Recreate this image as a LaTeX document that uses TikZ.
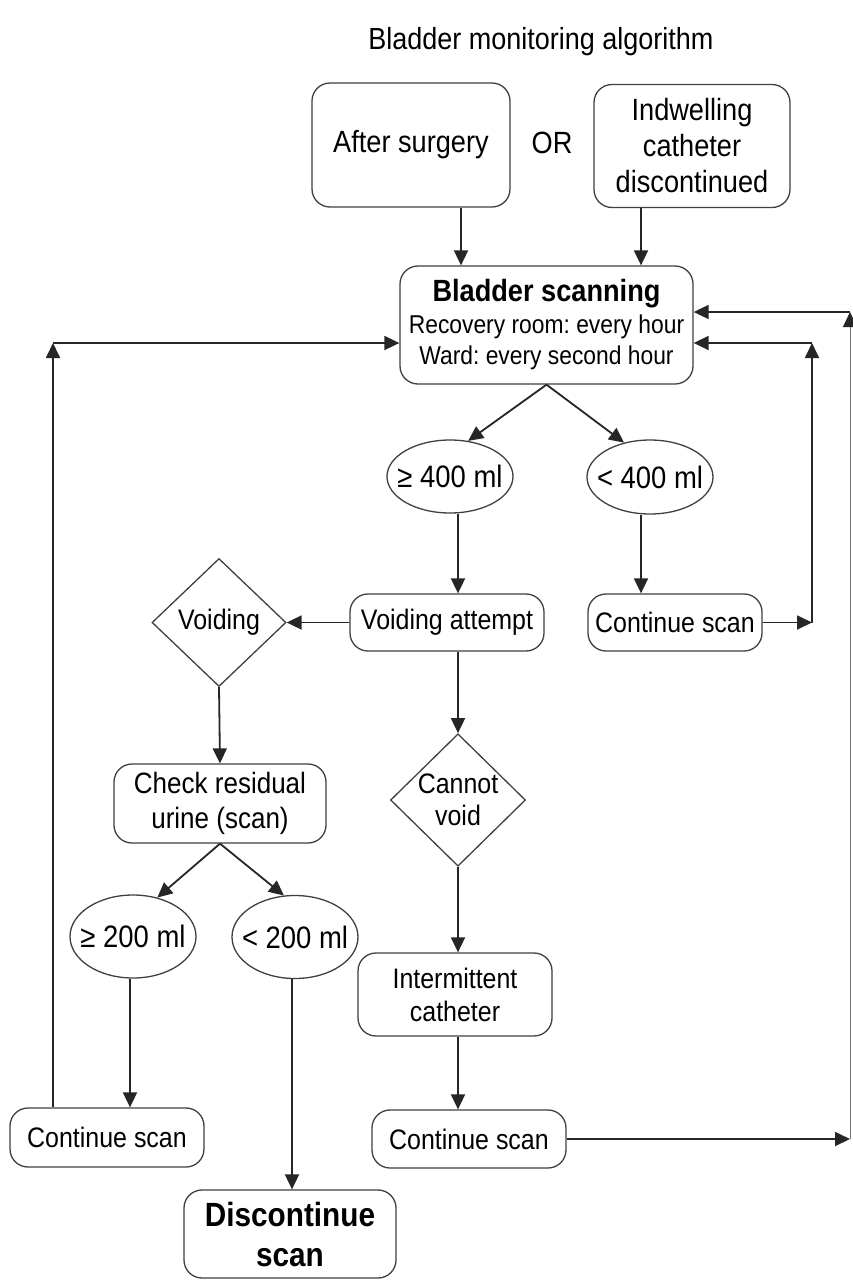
\documentclass[tikz,border=0pt]{standalone}
\usepackage{fontspec}
\setmainfont{Liberation Sans}[FakeStretch=0.885]
\usetikzlibrary{shapes.geometric,arrows.meta}
\frenchspacing
\begin{document}
\begin{tikzpicture}[x=1pt,y=-1pt,
  box/.style={draw=black!75, line width=1.3pt, rounded corners=18pt, align=center, inner sep=0pt, font=\fontsize{28.2}{35}\selectfont},
  oval/.style={ellipse, draw=black!75, line width=1.3pt, inner sep=0pt, font=\fontsize{31}{34}\selectfont},
  dia/.style={diamond, draw=black!75, line width=1.3pt, inner sep=0pt, align=center, font=\fontsize{28.2}{32}\selectfont},
  arr/.style={-{Triangle[length=15pt,width=14pt]}, line width=1.8pt, draw=black!85},
  thinarr/.style={-{Triangle[length=15pt,width=14pt,color=black!85]}, line width=1pt, draw=black!55},
  lbl/.style={inner sep=0pt, font=\fontsize{30.7}{34}\selectfont}]
\useasboundingbox (0,0) rectangle (852,1280);
\fill[white] (0,0) rectangle (852,1280);

% title
\node[lbl, font=\fontsize{30.5}{34}\selectfont] (title) at (541,42) {Bladder monitoring algorithm};

% nodes
\node[box, minimum width=198pt, minimum height=124pt, font=\fontsize{30.7}{36}\selectfont] (after) at (411,145) {After surgery};
\node[lbl] (or) at (552,143) {OR};
\node[box, minimum width=196pt, minimum height=123pt, font=\fontsize{30.7}{36}\selectfont] (indw) at (692,146) {Indwelling\\catheter\\discontinued};
\node[box, minimum width=293pt, minimum height=118pt, font=\fontsize{25.8}{31.5}\selectfont] (bs) at (546.5,325)
  {{\fontsize{30.7}{31.5}\selectfont\bfseries Bladder scanning}\\Recovery room: every hour\\Ward: every second hour};
\node[oval, minimum width=126pt, minimum height=73pt] (ge400) at (450,476.5) {\makebox[0pt]{≥ 400 ml}};
\node[oval, minimum width=126pt, minimum height=74pt] (lt400) at (650,477) {\makebox[0pt]{< 400 ml}};
\node[box, minimum width=194pt, minimum height=57pt] (va) at (447,622.5) {Voiding attempt};
\node[box, minimum width=174pt, minimum height=57pt] (cs1) at (675,622.5) {Continue scan};
\node[dia, minimum width=134pt, minimum height=128pt] (void) at (219,622.5) {Voiding};
\node[dia, minimum width=135pt, minimum height=126pt] (cnv) at (458,800) {Cannot\\void};
\node[box, minimum width=212pt, minimum height=79pt, font=\fontsize{29.4}{35}\selectfont] (chk) at (220,803.5) {Check residual\\urine (scan)};
\node[oval, minimum width=126pt, minimum height=83pt] (ge200) at (133,936.5) {\makebox[0pt]{≥ 200 ml}};
\node[oval, minimum width=126pt, minimum height=83pt] (lt200) at (295,937) {\makebox[0pt]{< 200 ml}};
\node[box, minimum width=194pt, minimum height=83pt, font=\fontsize{28.2}{33}\selectfont] (ic) at (455,994.5) {Intermittent\\catheter};
\node[box, minimum width=194pt, minimum height=59pt] (cs2) at (107,1137.5) {Continue scan};
\node[box, minimum width=194pt, minimum height=58pt] (cs3) at (469,1139) {Continue scan};
\node[box, minimum width=212pt, minimum height=88pt, font=\fontsize{33.6}{40}\selectfont\bfseries] (dis) at (290,1234) {Discontinue\\scan};

% helper coordinates
\coordinate (xa) at (461,0);
\coordinate (xb) at (641,0);
\coordinate (spine) at (458,0);
\coordinate (x130) at (130,0);
\coordinate (x292) at (292,0);
\coordinate (lcorner) at (53,343);
\coordinate (rA) at (812,622.5);
\coordinate (rB) at (812,343);
\coordinate (eA) at (850,1139);
\coordinate (eB) at (850,312);

% connectors
\draw[arr] (after.south -| xa) -- (bs.north -| xa);
\draw[arr] (indw.south -| xb) -- (bs.north -| xb);
\draw[arr] (bs.south) -- (ge400.63);
\draw[arr] (bs.south) -- (lt400.127);
\draw[arr] (ge400.south -| spine) -- (va.north -| spine);
\draw[arr] (lt400.south -| xb) -- (cs1.north -| xb);
\draw[arr] (cs1.east) -- (rA);
\draw[arr] (rA) -- (rB);
\draw[arr] (rB) -- (bs.east |- rB);
\draw[arr] (va.west) -- (void.east);
\draw[arr] (va.south -| spine) -- (cnv.north);
\draw[arr] (void.south) -- (chk.north);
\draw[arr] (chk.south) -- (ge200.58);
\draw[arr] (chk.south) -- (lt200.105);
\draw[arr] (ge200.south -| x130) -- (cs2.north -| x130);
\draw[arr] (cs2.north -| lcorner) -- (lcorner);
\draw[arr] (lcorner) -- (bs.west |- lcorner);
\draw[arr] (lt200.south -| x292) -- (dis.north -| x292);
\draw[arr] (cnv.south) -- (ic.north -| spine);
\draw[arr] (ic.south -| spine) -- (cs3.north -| spine);
\draw[arr] (cs3.east) -- (eA);
\draw[thinarr] (eA) -- (eB);
\draw[arr] (eB) -- (bs.east |- eB);
\end{tikzpicture}
\end{document}
